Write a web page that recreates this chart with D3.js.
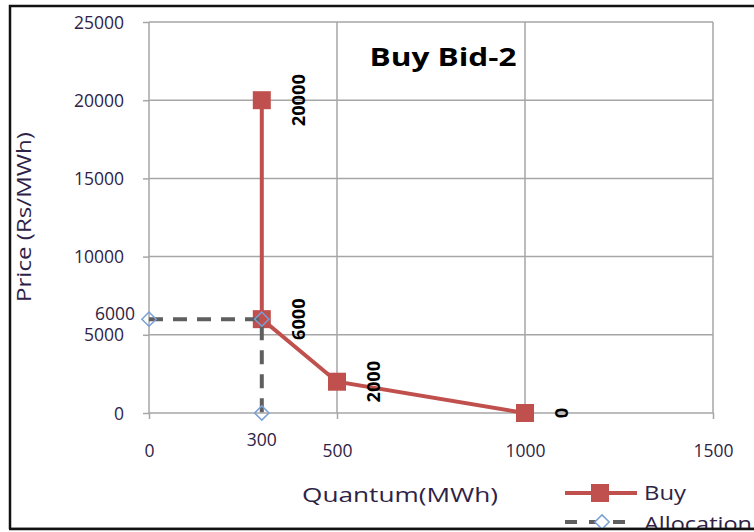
<!DOCTYPE html>
<html>
<head>
<meta charset="utf-8">
<script src="https://cdn.jsdelivr.net/npm/d3@7"></script>
<style>
  body { margin: 0; background: #fff; }
  text { font-family: "Open Sans", "DejaVu Sans", sans-serif; }
</style>
</head>
<body>
<div class="chart"></div>
<script>
// data
var buyQty = [300, 300, 500, 1000];
var buyPrice = [20000, 6000, 2000, 0];
var allocQty = [0, 300, 300];
var allocPrice = [6000, 6000, 0];
var xTicks = [0, 500, 1000, 1500];
var yTicks = [0, 5000, 10000, 15000, 20000, 25000];

var W = 754, H = 532;
var margin = {top: 22, right: 41, bottom: 119, left: 149},
    width = W - margin.left - margin.right,
    height = H - margin.top - margin.bottom;

var svg = d3.select(".chart").append("svg")
    .attr("width", W)
    .attr("height", H);

// outer chart border
svg.append("rect")
    .attr("x", 10).attr("y", 6)
    .attr("width", W + 20).attr("height", 523)
    .attr("fill", "none")
    .attr("stroke", "#111")
    .attr("stroke-width", 2.5);

var g = svg.append("g")
    .attr("transform", "translate(" + margin.left + "," + margin.top + ")");

var x = d3.scaleLinear().domain([0, 1500]).range([0, width]);
var y = d3.scaleLinear().domain([0, 25000]).range([height, 0]);

var labelColor = "#2e2346";
var tickFont = "17.5px";

// grid
g.append("g").selectAll("line")
    .data(yTicks)
    .enter().append("line")
    .attr("x1", 0).attr("x2", width)
    .attr("y1", function(d) { return y(d); })
    .attr("y2", function(d) { return y(d); })
    .attr("stroke", "#a6a6a6").attr("stroke-width", 1.5);
g.append("g").selectAll("line")
    .data(xTicks)
    .enter().append("line")
    .attr("y1", 0).attr("y2", height)
    .attr("x1", function(d) { return x(d); })
    .attr("x2", function(d) { return x(d); })
    .attr("stroke", "#a6a6a6").attr("stroke-width", 1.5);

// axes
var yAxis = g.append("g")
    .call(d3.axisLeft(y).tickValues(yTicks).tickSize(6).tickPadding(19).tickFormat(d3.format("d")));
var xAxis = g.append("g")
    .attr("transform", "translate(0," + height + ")")
    .call(d3.axisBottom(x).tickValues(xTicks).tickSize(6).tickPadding(26).tickFormat(d3.format("d")));
[yAxis, xAxis].forEach(function(a) {
    a.select(".domain").remove();
    a.selectAll(".tick line").attr("stroke", "#a6a6a6").attr("stroke-width", 1.5);
    a.selectAll(".tick text")
        .attr("fill", labelColor)
        .style("font-size", tickFont)
        .style("font-family", "\"Open Sans\", sans-serif");
});
yAxis.selectAll(".tick text").attr("dy", "0.35em");

var allocData = allocQty.map(function(q, i) { return {q: q, p: allocPrice[i]}; });
var buyData = buyQty.map(function(q, i) { return {q: q, p: buyPrice[i]}; });

var line = d3.line()
    .x(function(d) { return x(d.q); })
    .y(function(d) { return y(d.p); });

var buyColor = "#c0504d";

// buy series
g.append("path")
    .datum(buyData)
    .attr("d", line)
    .attr("fill", "none")
    .attr("stroke", buyColor)
    .attr("stroke-width", 4);

g.selectAll(".buy-pt")
    .data(buyData)
    .enter().append("rect")
    .attr("class", "buy-pt")
    .attr("x", function(d) { return x(d.q) - 9; })
    .attr("y", function(d) { return y(d.p) - 9; })
    .attr("width", 18).attr("height", 18)
    .attr("fill", buyColor);

// allocation series (dashed)
g.append("path")
    .datum(allocData)
    .attr("d", line)
    .attr("fill", "none")
    .attr("stroke", "#5f5f5f")
    .attr("stroke-width", 4)
    .attr("stroke-dasharray", "14,10");

var diamond = d3.symbol().type(d3.symbolDiamond2).size(130);
g.selectAll(".alloc-pt")
    .data(allocData)
    .enter().append("path")
    .attr("class", "alloc-pt")
    .attr("d", diamond)
    .attr("transform", function(d) { return "translate(" + x(d.q) + "," + y(d.p) + ")"; })
    .attr("fill", "none")
    .attr("stroke", "#7a9fd4")
    .attr("stroke-width", 1.5);

// buy data labels, rotated
g.selectAll(".buy-lbl")
    .data(buyData)
    .enter().append("text")
    .attr("class", "buy-lbl")
    .attr("transform", function(d) { return "translate(" + (x(d.q) + 37) + "," + y(d.p) + ") rotate(-90)"; })
    .attr("text-anchor", "middle")
    .attr("dy", "0.35em")
    .attr("fill", "#000")
    .style("font-size", "18px")
    .style("font-weight", "bold")
    .attr("textLength", function(d) { return String(d.p).length * 10.4; })
    .attr("lengthAdjust", "spacingAndGlyphs")
    .text(function(d) { return d.p; });

// allocation data labels
g.append("text")
    .attr("x", x(allocData[0].q) - 14)
    .attr("y", y(allocData[0].p))
    .attr("dy", "0.05em")
    .attr("text-anchor", "end")
    .attr("fill", labelColor)
    .style("font-size", tickFont)
    .text(allocData[0].p);
g.append("text")
    .attr("x", x(allocData[2].q))
    .attr("y", y(allocData[2].p) + 27)
    .attr("dy", "0.35em")
    .attr("text-anchor", "middle")
    .attr("fill", labelColor)
    .style("font-size", tickFont)
    .text(allocData[2].q);

// title
svg.append("text")
    .attr("x", 443).attr("y", 66)
    .attr("text-anchor", "middle")
    .attr("fill", "#000")
    .style("font-size", "25px")
    .style("font-weight", "bold")
    .attr("textLength", 147)
    .attr("lengthAdjust", "spacingAndGlyphs")
    .text("Buy Bid-2");

// axis titles
svg.append("text")
    .attr("transform", "translate(31,217) rotate(-90)")
    .attr("text-anchor", "middle")
    .attr("fill", labelColor)
    .style("font-size", "20px")
    .attr("textLength", 170)
    .attr("lengthAdjust", "spacingAndGlyphs")
    .text("Price (Rs/MWh)");
svg.append("text")
    .attr("x", 400).attr("y", 502)
    .attr("text-anchor", "middle")
    .attr("fill", labelColor)
    .style("font-size", "20px")
    .attr("textLength", 196)
    .attr("lengthAdjust", "spacingAndGlyphs")
    .text("Quantum(MWh)");

// legend
var leg = svg.append("g");
leg.append("line")
    .attr("x1", 565).attr("x2", 637).attr("y1", 493).attr("y2", 493)
    .attr("stroke", buyColor).attr("stroke-width", 4);
leg.append("rect")
    .attr("x", 591).attr("y", 484).attr("width", 18).attr("height", 18)
    .attr("fill", buyColor);
leg.append("text")
    .attr("x", 644).attr("y", 493).attr("dy", "0.35em")
    .attr("fill", labelColor).style("font-size", "20px")
    .attr("textLength", 42)
    .attr("lengthAdjust", "spacingAndGlyphs")
    .text("Buy");
leg.append("line")
    .attr("x1", 565).attr("x2", 637).attr("y1", 522).attr("y2", 522)
    .attr("stroke", "#5f5f5f").attr("stroke-width", 4)
    .attr("stroke-dasharray", "12,12");
leg.append("path")
    .attr("d", diamond)
    .attr("transform", "translate(602,522)")
    .attr("fill", "#fff")
    .attr("stroke", "#7a9fd4").attr("stroke-width", 1.5);
leg.append("text")
    .attr("x", 644).attr("y", 524).attr("dy", "0.35em")
    .attr("fill", labelColor).style("font-size", "20px")
    .attr("textLength", 108)
    .attr("lengthAdjust", "spacingAndGlyphs")
    .text("Allocation");

// bottom border drawn on top so it clips the legend like the original
svg.append("rect")
    .attr("x", 0).attr("y", 529)
    .attr("width", W).attr("height", 3)
    .attr("fill", "#fff");
svg.append("line")
    .attr("x1", 9).attr("x2", W).attr("y1", 529).attr("y2", 529)
    .attr("stroke", "#111").attr("stroke-width", 2.5);
</script>
</body>
</html>
